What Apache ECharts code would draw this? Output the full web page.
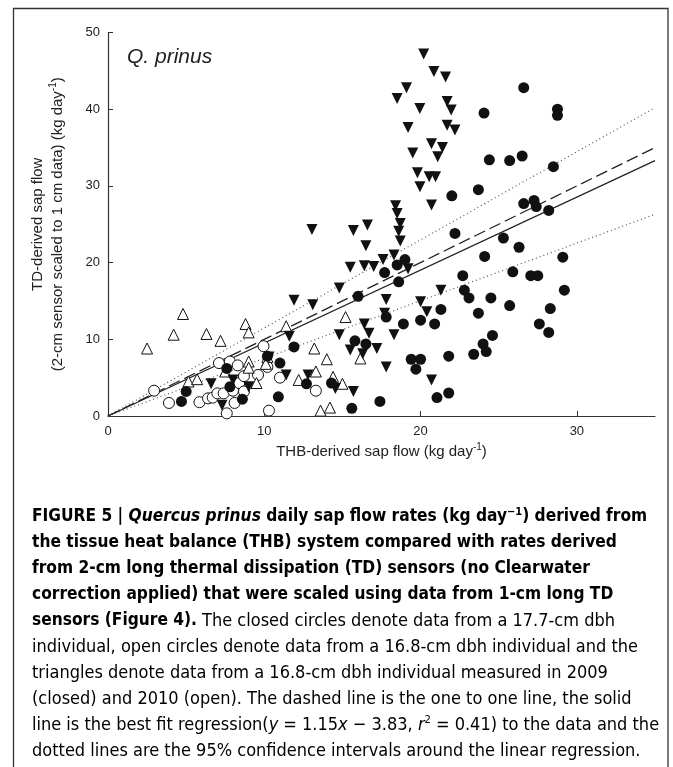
<!DOCTYPE html>
<html>
<head>
<meta charset="utf-8">
<script src="https://cdn.jsdelivr.net/npm/echarts@6/dist/echarts.min.js"></script>
<style>
  html, body { margin: 0; padding: 0; background: #fff; }
  #chart { width: 673px; height: 767px; }
</style>
</head>
<body>
<div id="chart"></div>
<script>
// closed circles: 17.7-cm dbh individual
var closedCircles = [
  [4.7, 1.9], [5.0, 3.2], [7.6, 6.2], [7.8, 3.8], [8.6, 2.2], [10.2, 7.8], [11.0, 6.9],
  [11.9, 9.0], [10.9, 2.5], [12.7, 4.2], [14.3, 4.3], [15.6, 1.0], [15.8, 9.8], [16.5, 9.4],
  [16.0, 15.6], [17.4, 1.9], [17.7, 18.7], [17.8, 12.9], [18.5, 19.7], [18.6, 17.5],
  [18.9, 12.0], [19.0, 20.4], [19.4, 7.4], [19.7, 6.1], [20.0, 7.4], [20.0, 12.5],
  [20.9, 12.0], [21.05, 2.4], [21.3, 13.9], [21.8, 3.0], [21.8, 7.8], [22.0, 28.7],
  [22.2, 23.8], [22.7, 18.3], [22.8, 16.4], [23.1, 15.4], [23.4, 8.05], [23.7, 13.4],
  [23.7, 29.5], [24.0, 9.4], [24.06, 39.5], [24.1, 20.8], [24.2, 8.4], [24.4, 33.4],
  [24.5, 15.4], [24.6, 10.5], [25.3, 23.2], [25.7, 33.3], [25.7, 14.4], [25.9, 18.8],
  [26.3, 22.0], [26.5, 33.9], [26.6, 42.8], [26.6, 27.7], [27.05, 18.3], [27.26, 28.1],
  [27.4, 27.3], [27.5, 18.3], [27.6, 12.0], [28.2, 26.8], [28.2, 10.9], [28.3, 14.0],
  [28.5, 32.5], [28.76, 40.0], [28.76, 39.2], [29.1, 20.7], [29.2, 16.4]
];
// open circles: 16.8-cm dbh individual
var openCircles = [
  [2.95, 3.3], [3.9, 1.7], [5.85, 1.8], [6.4, 2.3], [6.7, 2.4], [7.0, 2.95], [7.1, 6.9],
  [7.4, 2.95], [7.6, 0.35], [7.8, 7.1], [8.0, 3.3], [8.1, 1.7], [8.3, 6.6], [8.4, 4.3],
  [8.7, 5.2], [8.7, 3.2], [9.6, 5.35], [9.95, 9.1], [10.2, 6.4], [10.3, 0.7], [11.0, 5.0],
  [13.3, 3.3]
];
// triangles: 2009 (closed)
var closedTriangles = [
  [6.6, 4.2], [7.3, 1.4], [8.0, 4.7], [9.0, 3.8], [10.3, 7.7], [11.6, 10.4], [11.9, 15.1],
  [13.1, 14.5], [11.4, 5.35], [12.8, 5.35], [14.55, 3.6], [14.8, 10.6], [14.8, 16.7],
  [13.05, 24.3], [15.7, 24.2], [16.6, 24.9], [18.4, 27.4], [18.5, 26.4], [18.7, 25.1],
  [18.6, 24.1], [16.5, 22.2], [18.7, 22.8], [18.3, 21.0], [15.5, 19.4], [16.4, 19.6],
  [17.0, 19.5], [17.6, 20.4], [19.2, 19.2], [17.8, 15.2], [21.3, 16.4], [20.0, 14.9],
  [20.4, 13.6], [17.7, 13.4], [16.4, 12.0], [16.7, 10.8], [18.3, 10.6], [17.2, 8.8],
  [15.5, 8.6], [16.3, 8.1], [17.8, 6.4], [20.7, 4.7], [15.7, 3.2], [19.96, 29.9],
  [20.7, 27.5], [20.2, 47.2], [20.85, 44.9], [21.6, 44.2], [19.1, 42.8], [18.5, 41.4],
  [19.95, 40.1], [21.7, 41.0], [21.96, 39.9], [19.2, 37.6], [21.7, 37.9], [22.2, 37.3],
  [20.7, 35.5], [21.4, 35.0], [19.5, 34.3], [21.1, 33.8], [19.8, 31.7], [20.55, 31.2],
  [20.96, 31.2]
];
// triangles: 2010 (open)
var openTriangles = [
  [2.5, 8.8], [4.8, 13.3], [4.2, 10.6], [6.3, 10.7], [7.2, 9.8], [8.8, 12.0], [9.0, 10.9],
  [11.4, 11.7], [13.2, 8.8], [14.0, 7.4], [5.15, 4.5], [5.7, 4.8], [7.5, 5.8], [9.0, 7.1],
  [9.0, 6.3], [9.5, 4.3], [10.2, 7.7], [10.1, 6.8], [12.2, 4.7], [13.3, 5.8], [14.4, 5.1],
  [13.6, 0.7], [14.2, 1.1], [15.2, 12.9], [16.15, 7.5], [15.0, 4.2]
];
// lines (end points)
var oneToOne = [[0, 0], [35, 35]];
var fitLine = [[0, 0], [35, 33.3]];
var ciUpper = [[0, 0], [35, 40.2]];
var ciLower = [[0, 0], [35, 26.3]];

var xTicks = [0, 10, 20, 30];

var FONT = "'Liberation Sans', Arial, sans-serif";
var CAP = "'Liberation Sans Narrow', 'DejaVu Sans Condensed', 'Liberation Sans', sans-serif";

var chart = echarts.init(document.getElementById("chart"));

function scatter(data, symbol, filled, rotate) {
  return {
    type: "scatter",
    data: data,
    symbol: symbol,
    symbolSize: 11,
    symbolRotate: rotate || 0,
    itemStyle: filled
      ? { color: "#111", opacity: 1 }
      : { color: "#fff", borderColor: "#111", borderWidth: 1, opacity: 1 },
    z: 3
  };
}

function refLine(data, type, color, width) {
  return {
    type: "line",
    data: data,
    symbol: "none",
    lineStyle: { color: color, width: width, type: type },
    z: 2
  };
}

var capLines = [
  "{b|FIGURE 5 | }{bi|Quercus prinus}{b| daily sap flow rates (kg day}{bsup|\u22121}{b|) derived from}",
  "{b|the tissue heat balance (THB) system compared with rates derived}",
  "{b|from 2-cm long thermal dissipation (TD) sensors (no Clearwater}",
  "{b|correction applied) that were scaled using data from 1-cm long TD}",
  "{b|sensors (Figure 4).}{n| The closed circles denote data from a 17.7-cm dbh}",
  "{n|individual, open circles denote data from a 16.8-cm dbh individual and the}",
  "{n|triangles denote data from a 16.8-cm dbh individual measured in 2009}",
  "{n|(closed) and 2010 (open). The dashed line is the one to one line, the solid}",
  "{n|line is the best fit regression(}{i|y}{n| = 1.15}{i|x}{n| \u2212 3.83, }{i|r}{sup|2}{n| = 0.41) to the data and the}",
  "{n|dotted lines are the 95% confidence intervals around the linear regression.}"
];

var capRich = {
  b: { fontFamily: CAP, fontSize: 17.2, fontWeight: "bold", color: "#111", lineHeight: 26 },
  bi: { fontFamily: CAP, fontSize: 17.2, fontWeight: "bold", fontStyle: "italic", color: "#111", lineHeight: 26 },
  bsup: { fontFamily: CAP, fontSize: 11, fontWeight: "bold", color: "#111", lineHeight: 26, verticalAlign: "top", padding: [3, 0, 0, 0] },
  n: { fontFamily: CAP, fontSize: 18, color: "#333", lineHeight: 26 },
  i: { fontFamily: CAP, fontSize: 18, fontStyle: "italic", color: "#333", lineHeight: 26 },
  sup: { fontFamily: CAP, fontSize: 11, color: "#333", lineHeight: 26, verticalAlign: "top", padding: [3, 0, 0, 0] }
};

var supRich = {
  s: { fontFamily: FONT, fontSize: 10, color: "#222", verticalAlign: "top", lineHeight: 14 },
  t: { fontFamily: FONT, fontSize: 15, color: "#222", lineHeight: 20 }
};

chart.setOption({
  animation: false,
  title: {
    text: "Q. prinus",
    left: 122,
    top: 42,
    textStyle: { fontFamily: FONT, fontSize: 21, fontStyle: "italic", fontWeight: "normal", color: "#222" }
  },
  grid: { left: 108, right: 18, top: 32.5, bottom: 351 },
  xAxis: {
    type: "value",
    min: 0,
    max: 35,
    interval: 10,
    splitLine: { show: false },
    axisLine: { lineStyle: { color: "#333", width: 1.2 } },
    axisTick: { inside: true, length: 5, customValues: [10, 20, 30], lineStyle: { color: "#333" } },
    axisLabel: { customValues: xTicks, margin: 9, fontFamily: FONT, fontSize: 13, color: "#222" },
    name: "{t|THB-derived sap flow (kg day}{s|-1}{t|)}",
    nameLocation: "middle",
    nameMoveOverlap: false,
    nameGap: 26,
    nameTextStyle: { rich: supRich, verticalAlign: "top" }
  },
  yAxis: {
    type: "value",
    min: 0,
    max: 50,
    interval: 10,
    splitLine: { show: false },
    axisLine: { show: true, lineStyle: { color: "#333", width: 1.2 } },
    axisTick: { show: true, inside: true, length: 5, lineStyle: { color: "#333" } },
    axisLabel: { margin: 8, fontFamily: FONT, fontSize: 13, color: "#222" },
    name: "{t|TD-derived sap flow}\n{t|(2-cm sensor scaled to 1 cm data) (kg day}{s|-1}{t|)}",
    nameLocation: "middle",
    nameGap: 40,
    nameTextStyle: { rich: supRich }
  },
  graphic: [
    {
      type: "rect",
      shape: { x: 13.5, y: 8.5, width: 654.5, height: 800 },
      style: { fill: "none", stroke: "#333", lineWidth: 1.3 },
      silent: true
    },
    {
      type: "text",
      left: 32,
      top: 504,
      style: { text: capLines.join("\n"), rich: capRich }
    }
  ],
  series: [
    refLine(ciUpper, [1, 3], "#555", 1.2),
    refLine(ciLower, [1, 3], "#555", 1.2),
    refLine(oneToOne, [12, 5], "#222", 1.3),
    refLine(fitLine, "solid", "#222", 1.3),
    scatter(openCircles, "circle", false),
    scatter(openTriangles, "triangle", false),
    scatter(closedTriangles, "triangle", true, 180),
    scatter(closedCircles, "circle", true)
  ]
});
</script>
</body>
</html>
